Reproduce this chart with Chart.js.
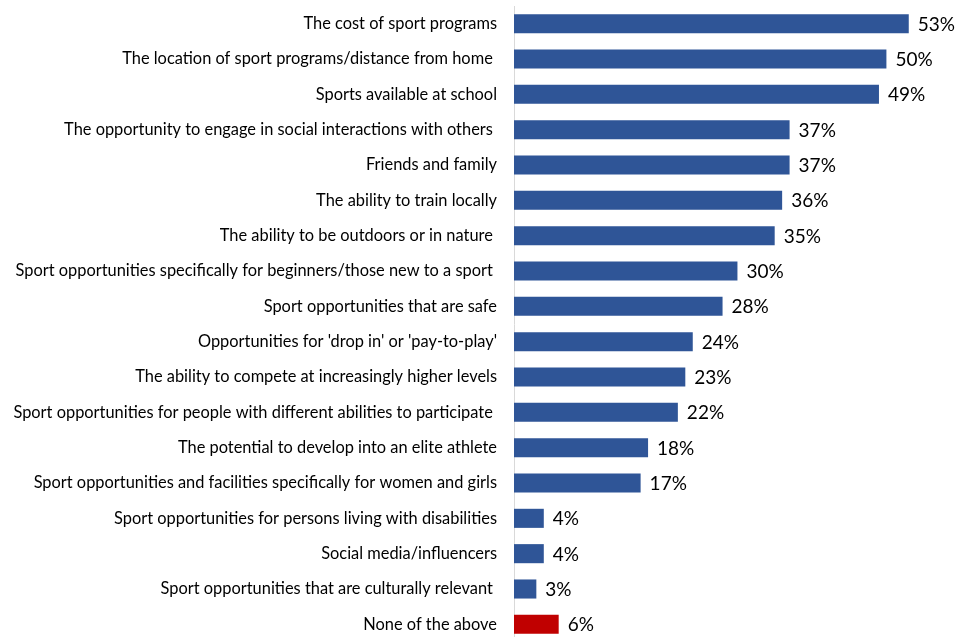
<!DOCTYPE html>
<html lang="en">
<head>
  <meta charset="UTF-8">
  <title>Factors influencing sport participation</title>
  <script src="https://cdn.jsdelivr.net/npm/chart.js@4.4.0/dist/chart.umd.min.js"></script>
  <style>
    html, body { margin: 0; padding: 0; background: #fff; overflow: hidden; }
    #wrap { width: 955px; height: 642px; }
  </style>
</head>
<body>
<div id="wrap"><canvas id="chart" width="955" height="642"></canvas></div>

<script>
  // categories (trailing spaces kept as in the source labels)
  const factors = [
    'The cost of sport programs',
    'The location of sport programs/distance from home ',
    'Sports available at school',
    'The opportunity to engage in social interactions with others ',
    'Friends and family',
    'The ability to train locally',
    'The ability to be outdoors or in nature ',
    'Sport opportunities specifically for beginners/those new to a sport ',
    'Sport opportunities that are safe',
    "Opportunities for 'drop in' or 'pay-to-play'",
    'The ability to compete at increasingly higher levels',
    'Sport opportunities for people with different abilities to participate ',
    'The potential to develop into an elite athlete',
    'Sport opportunities and facilities specifically for women and girls',
    'Sport opportunities for persons living with disabilities',
    'Social media/influencers',
    'Sport opportunities that are culturally relevant ',
    'None of the above'
  ];
  const percents = [53, 50, 49, 37, 37, 36, 35, 30, 28, 24, 23, 22, 18, 17, 4, 4, 3, 6];
  const noneLabel = 'None of the above';

  const BLUE = '#2F5597', RED = '#C00000';
  const barColors = factors.map(f => f === noneLabel ? RED : BLUE);

  // writes "NN%" just past the end of each bar
  const valueLabels = {
    id: 'valueLabels',
    afterDatasetsDraw(chart) {
      const ctx = chart.ctx;
      const meta = chart.getDatasetMeta(0);
      ctx.save();
      ctx.font = '19px Lato, "Open Sans", sans-serif';
      ctx.fillStyle = '#000';
      ctx.textAlign = 'left';
      ctx.textBaseline = 'middle';
      meta.data.forEach((bar, i) => {
        ctx.fillText(percents[i] + '%', bar.x + 9, bar.y + 1);
      });
      ctx.restore();
    }
  };

  new Chart(document.getElementById('chart'), {
    type: 'bar',
    data: {
      labels: factors,
      datasets: [{
        data: percents,
        backgroundColor: barColors,
        borderWidth: 0,
        barPercentage: 0.54,
        categoryPercentage: 1
      }]
    },
    options: {
      indexAxis: 'y',
      responsive: false,
      animation: false,
      devicePixelRatio: 1,
      layout: { padding: { top: 6, right: 9, bottom: 0, left: 0 } },
      plugins: { legend: { display: false }, tooltip: { enabled: false } },
      scales: {
        x: { display: false, min: 0, max: 58 },
        y: {
          // fixed label column; no extra room above/below the bars
          afterFit: s => { s.width = 514; s.paddingTop = 0; s.paddingBottom = 0; },
          grid: { display: false, drawTicks: false },
          border: { display: true, color: '#d9d9d9', width: 1 },
          ticks: {
            padding: 17,
            color: '#000',
            autoSkip: false,
            font: { family: 'Lato, "Open Sans", sans-serif', size: 16.4 }
          }
        }
      }
    },
    plugins: [valueLabels]
  });
</script>
</body>
</html>
